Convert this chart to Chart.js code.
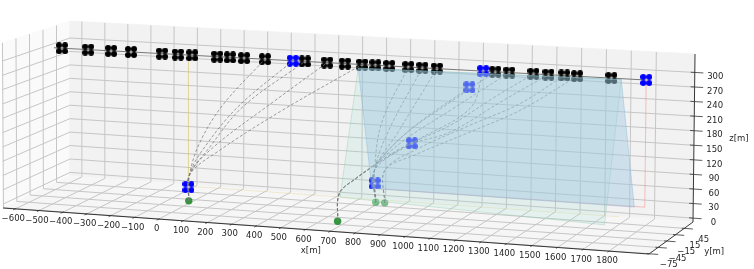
<!DOCTYPE html>
<html>
<head>
<meta charset="utf-8">
<script src="https://cdn.jsdelivr.net/npm/chart.js@4"></script>
<style>
  html, body { margin: 0; padding: 0; background: #fff; }
  canvas { display: block; }
</style>
</head>
<body>
<canvas id="grafica" width="754" height="269"></canvas>
<script>
// limites de los ejes
const xMin = -652, xMax = 1954;
const yMin = -76, yMax = 75;
const zMin = -8, zMax = 338;

const xTicks = [-600, -500, -400, -300, -200, -100, 0, 100, 200, 300, 400, 500, 600, 700, 800, 900, 1000, 1100, 1200, 1300, 1400, 1500, 1600, 1700, 1800];
const yTicks = [-75, -45, -15, 15, 45];
const zTicks = [0, 30, 60, 90, 120, 150, 180, 210, 240, 270, 300];

// drones en vuelo a 300 m
const blackX = [-570, -458, -360, -275, -143, -76, -16, 89, 143, 202, 289, 455, 547, 620, 691, 745, 802, 880, 937, 996, 1232, 1288, 1385, 1445, 1508, 1559, 1695];
const blackY = blackX.map(() => 15);
const blackZ = blackX.map(() => 300);

const blueX = [-31, 700, 896, 1128, 405, 1183, 1832];
const blueY = [15, 45, 15, 15, 15, 15, 15];
const blueZ = [18, 39, 142, 265, 300, 300, 300];

// bases en el suelo
const baseX = [8, 688];
const baseY = [-7, -48];
const baseZ = [0, 0];
const baseLightX = [706, 743];
const baseLightY = [44, 44];
const baseLightZ = [0, 0];

// trayectorias
const routeX = [
  [8, -27, 15, 112, 288],
  [8, -27, 28, 175, 405],
  [8, -27, 49, 196, 455],
  [8, -27, 70, 322, 547],
  [8, -27, 100, 364, 691],
  [688, 600, 670, 732, 876, 1051, 1225, 1385],
  [688, 600, 670, 732, 876, 1051, 1253, 1445],
  [688, 600, 670, 732, 876, 1051, 1232],
  [688, 600, 670, 732, 876, 1051, 1288],
  [706, 744, 773, 880],
  [706, 744, 806, 937],
  [706, 744, 839, 996],
  [706, 744, 876, 1128],
  [706, 744, 896, 1132, 1183],
  [743, 786, 908, 1132, 1334, 1508],
  [743, 786, 908, 1132, 1334, 1559]
];
const routeStartY = [-7, -7, -7, -7, -7, -48, -48, -48, -48, 44, 44, 44, 44, 44, 44, 44];
const routeZ = [
  [0, 44, 113, 197, 300],
  [0, 44, 99, 195, 300],
  [0, 44, 100, 196, 300],
  [0, 44, 105, 210, 300],
  [0, 44, 101, 195, 300],
  [0, 28, 62, 87, 137, 184, 246, 300],
  [0, 28, 62, 87, 137, 170, 238, 300],
  [0, 28, 62, 87, 164, 232, 300],
  [0, 28, 62, 87, 152, 215, 300],
  [0, 81, 182, 300],
  [0, 81, 171, 300],
  [0, 81, 163, 300],
  [0, 81, 164, 265],
  [0, 81, 142, 222, 300],
  [0, 82, 128, 187, 238, 300],
  [0, 82, 118, 173, 224, 300]
];

// planos
const planeBlueX = [675, 1734, 1755, 688];
const planeBlueY = [15, 15, 45, 45];
const planeBlueZ = [292, 298, 28, 28];
const planeTealX = [675, 1734, 1745, 693];
const planeTealY = [15, 15, -45, -45];
const planeTealZ = [292, 298, 29, 48];
const edgeRedX = [1832, 1832, 757];
const edgeRedY = [15, 15, 15];
const edgeRedZ = [300, 43, 43];
const edgeYellowX = [-31, -31, 1730];
const edgeYellowY = [15, 15, 15];
const edgeYellowZ = [300, 20, 20];
const topLineX = [-605, 1832];
const topLineY = [15, 15];
const topLineZ = [300, 300];

// calibracion de la vista: pixel de cada esquina de la caja (bit 1 x, bit 2 y, bit 4 z)
const cornerPxX = [3, 649, 70, 693, 2, 651, 70, 695];
const cornerPxY = [208, 254, 176, 222, 43, 76, 21, 54];
const perspX = 0.05;

function proyectar(x, y, z) {
  const t = (x - xMin) / (xMax - xMin);
  const u = t / (1 + perspX - perspX * t);
  const v = (y - yMin) / (yMax - yMin);
  const w = (z - zMin) / (zMax - zMin);
  let px = 0, py = 0;
  for (let i = 0; i < 8; i++) {
    const peso = (i & 1 ? u : 1 - u) * (i & 2 ? v : 1 - v) * (i & 4 ? w : 1 - w);
    px += peso * cornerPxX[i];
    py += peso * cornerPxY[i];
  }
  return { x: px, y: py };
}

const puntos = (xs, ys, zs) => xs.map((x, i) => proyectar(x, ys[i], zs[i]));
const datasets = [];

function linea(data, color, ancho, extra) {
  datasets.push(Object.assign({
    data, showLine: true, borderColor: color, borderWidth: ancho, pointRadius: 0, tension: 0, fill: false, clip: false
  }, extra || {}));
}
function plano(data, relleno, borde) {
  linea(data.concat([data[0]]), borde, 0.8, { polyFill: relleno });
}

// paredes
plano(puntos([xMin, xMin, xMin, xMin], [yMin, yMax, yMax, yMin], [zMin, zMin, zMax, zMax]), "#fafafa", "#fafafa");
plano(puntos([xMin, xMax, xMax, xMin], [yMax, yMax, yMax, yMax], [zMin, zMin, zMax, zMax]), "#f2f2f2", "#f2f2f2");
plano(puntos([xMin, xMax, xMax, xMin], [yMin, yMin, yMax, yMax], [zMin, zMin, zMin, zMin]), "#f6f6f6", "#f6f6f6");

// rejilla
const colorRejilla = "#c6c6c6";
for (const x of xTicks) {
  linea(puntos([x, x, x], [yMin, yMax, yMax], [zMin, zMin, zMax]), colorRejilla, 1);
}
for (const y of yTicks) {
  linea(puntos([xMax, xMin, xMin], [y, y, y], [zMin, zMin, zMax]), colorRejilla, 1);
}
for (const z of zTicks) {
  linea(puntos([xMin, xMin, xMax], [yMin, yMax, yMax], [z, z, z]), colorRejilla, 1);
}

// ejes y marcas
linea(puntos([xMin, xMax, xMax, xMax], [yMin, yMin, yMax, yMax], [zMin, zMin, zMin, zMax]), "#222", 0.9);
for (const x of xTicks) {
  linea(puntos([x, x], [yMin + 2, yMin - 5], [zMin, zMin]), "#333", 0.8);
}
for (const y of yTicks) {
  linea(puntos([xMax - 10, xMax + 34], [y, y], [zMin, zMin]), "#333", 0.8);
}
for (const z of zTicks) {
  linea(puntos([xMax - 16, xMax + 34], [yMax, yMax], [z, z]), "#333", 0.8);
}

// bordes finos de los planos amarillo y rojo
linea(puntos(edgeYellowX, edgeYellowY, edgeYellowZ), "rgba(215,200,110,0.32)", 0.9);
linea(puntos(edgeRedX, edgeRedY, edgeRedZ), "rgba(245,130,130,0.55)", 0.9);
linea(puntos(topLineX, topLineY, topLineZ), "#777", 1.1);

// dibujo de un dron: cuatro rotores
function rotores(color) {
  const c = document.createElement("canvas");
  c.width = 12;
  c.height = 12;
  const g = c.getContext("2d");
  g.fillStyle = color;
  for (const [a, b] of [[3, 3], [9, 3], [3, 9], [9, 9]]) {
    g.beginPath();
    g.arc(a, b, 3, 0, Math.PI * 2);
    g.fill();
  }
  return c;
}

datasets.push({ data: puntos(blackX, blackY, blackZ), pointStyle: rotores("#000"), pointRadius: 6, clip: false });
datasets.push({ data: puntos(blueX, blueY, blueZ), pointStyle: rotores("#0000ff"), pointRadius: 6, clip: false });
datasets.push({ data: puntos(baseX, baseY, baseZ), pointStyle: "circle", pointRadius: 3.7, pointBackgroundColor: "rgba(34,139,44,0.9)", pointBorderWidth: 0, clip: false });
datasets.push({ data: puntos(baseLightX, baseLightY, baseLightZ), pointStyle: "circle", pointRadius: 3.7, pointBackgroundColor: "rgba(60,160,85,0.65)", pointBorderWidth: 0, clip: false });

// trayectorias
routeX.forEach((xs, i) => {
  const ys = xs.map((_, j) => (j === 0 ? routeStartY[i] : 15));
  linea(puntos(xs, ys, routeZ[i]), "rgba(120,120,120,0.8)", 0.9, { tension: 0.35, borderDash: [3, 2] });
});

// planos translucidos encima
plano(puntos(planeTealX, planeTealY, planeTealZ), "rgba(150,220,210,0.17)", "rgba(150,205,170,0.5)");
plano(puntos(planeBlueX, planeBlueY, planeBlueZ), "rgba(155,198,224,0.42)", "rgba(130,180,215,0.5)");

// el primero de la lista se pinta encima en Chart.js: se invierte con order
datasets.forEach((d, i) => { d.order = datasets.length - i; });

const rellenoPlanos = {
  id: "rellenoPlanos",
  beforeDatasetDraw(chart, args) {
    const ds = chart.data.datasets[args.index];
    if (!ds.polyFill) return;
    const ctx = chart.ctx;
    ctx.save();
    ctx.fillStyle = ds.polyFill;
    ctx.beginPath();
    args.meta.data.forEach((p, i) => (i ? ctx.lineTo(p.x, p.y) : ctx.moveTo(p.x, p.y)));
    ctx.closePath();
    ctx.fill();
    ctx.restore();
  }
};

const textos = {
  id: "textos",
  afterDatasetsDraw(chart) {
    const ctx = chart.ctx;
    const sx = chart.scales.x, sy = chart.scales.y;
    const escribe = (txt, p, dx, dy) => ctx.fillText(txt, sx.getPixelForValue(p.x) + dx, sy.getPixelForValue(p.y) + dy);
    const nombre = v => String(v).replace("-", "\u2212");
    ctx.save();
    ctx.font = "8.5px 'DejaVu Sans'";
    ctx.fillStyle = "#262626";
    ctx.textAlign = "center";
    ctx.textBaseline = "middle";
    for (const x of xTicks) escribe(nombre(x), proyectar(x, yMin, zMin), -2, 10);
    for (const y of yTicks) escribe(nombre(y), proyectar(xMax, y, zMin), 19.5, 11);
    for (const z of zTicks) escribe(nombre(z), proyectar(xMax, yMax, z), 20.5, 4.5);
    // nombres de los ejes
    escribe("x[m]", proyectar(690, yMin, zMin), -17, 20);
    escribe("y[m]", proyectar(xMax, 0, zMin), 43, 14);
    escribe("z[m]", proyectar(xMax, yMax, 150), 45, -6);
    ctx.restore();
  }
};

new Chart(document.getElementById("grafica"), {
  type: "scatter",
  data: { datasets },
  options: {
    responsive: false,
    animation: false,
    layout: { autoPadding: false, padding: 0 },
    plugins: { legend: { display: false }, tooltip: { enabled: false } },
    scales: {
      x: { type: "linear", min: 0, max: 754, display: false },
      y: { type: "linear", min: 0, max: 269, reverse: true, display: false }
    }
  },
  plugins: [rellenoPlanos, textos]
});
</script>
</body>
</html>
